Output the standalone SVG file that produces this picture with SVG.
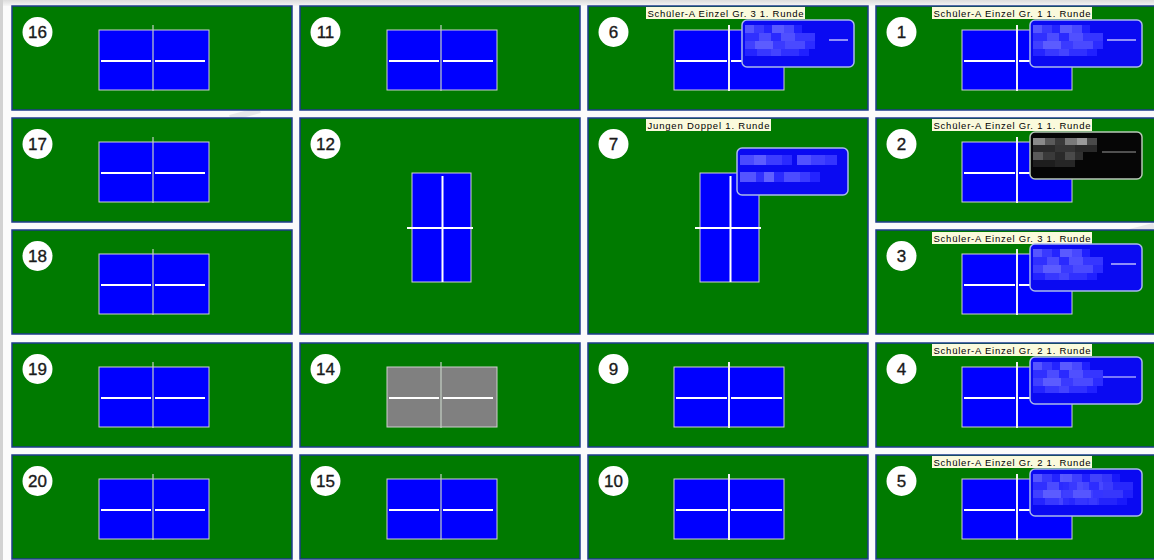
<svg xmlns="http://www.w3.org/2000/svg" width="1154" height="560" viewBox="0 0 1154 560">
<style>
.court{fill:#007a00;stroke:#1e3c8c;stroke-width:1.5}
.tbl{fill:#0000ff;stroke:#cfcfcf;stroke-width:1}
.off{fill:#808080}
.ln{stroke:#ffffff;stroke-width:2;fill:none}
.net1{stroke:#c4d0c4;stroke-width:1.2;fill:none}
.net2{stroke:#f2f2f2;stroke-width:2;fill:none}
.badge{fill:#ffffff}
.num{font-family:"Liberation Sans",Arial,sans-serif;font-size:17px;fill:#1a1a1a;stroke:#1a1a1a;stroke-width:0.35;text-anchor:middle}
.lbl{fill:#fafadc}
.lt{font-family:"Liberation Sans",Arial,sans-serif;font-size:9.5px;fill:#000}
.ov{fill:#0a0af2;stroke:#a9b9e9;stroke-width:1.5}
.ovd{fill:#060606;stroke:#b8c8b8;stroke-width:1.5}
.sep{stroke:#e8e8ff;stroke-width:1.2}
.sepd{stroke:#9a9a9a;stroke-width:1.2}
</style>
<defs>
<linearGradient id="topg" x1="0" y1="0" x2="0" y2="1">
<stop offset="0" stop-color="#dcdcdc"/><stop offset="1" stop-color="#f6f6f6"/>
</linearGradient>
<g id="mosA">
<rect x="3" y="5" width="9" height="8" fill="#5656ff"/><rect x="12" y="5" width="10" height="8" fill="#3a3aff"/><rect x="22" y="5" width="8" height="8" fill="#2424ff"/><rect x="30" y="5" width="12" height="8" fill="#5a5aff"/><rect x="42" y="5" width="10" height="8" fill="#4848ff"/><rect x="52" y="5" width="8" height="8" fill="#2020ff"/>
<rect x="3" y="13" width="14" height="8" fill="#3030ff"/><rect x="17" y="13" width="12" height="8" fill="#4c4cff"/><rect x="29" y="13" width="10" height="8" fill="#2a2aff"/><rect x="39" y="13" width="14" height="8" fill="#5050ff"/><rect x="53" y="13" width="20" height="8" fill="#3636ff"/>
<rect x="3" y="21" width="10" height="8" fill="#4040ff"/><rect x="13" y="21" width="18" height="8" fill="#5c5cff"/><rect x="31" y="21" width="12" height="8" fill="#3a3aff"/><rect x="43" y="21" width="20" height="8" fill="#4a4aff"/><rect x="63" y="21" width="10" height="8" fill="#2c2cff"/>
<rect x="3" y="29" width="12" height="7" fill="#2424ff"/><rect x="15" y="29" width="14" height="7" fill="#3838ff"/><rect x="29" y="29" width="10" height="7" fill="#4444ff"/><rect x="39" y="29" width="18" height="7" fill="#3030ff"/><rect x="57" y="29" width="10" height="7" fill="#2020ff"/>
</g>
<g id="mosB">
<rect x="3" y="7" width="14" height="10" fill="#4a4aff"/><rect x="17" y="7" width="12" height="10" fill="#5c5cff"/><rect x="29" y="7" width="16" height="10" fill="#3c3cff"/><rect x="45" y="7" width="10" height="10" fill="#2a2aff"/><rect x="60" y="7" width="14" height="10" fill="#5252ff"/><rect x="74" y="7" width="14" height="10" fill="#4040ff"/><rect x="88" y="7" width="12" height="10" fill="#3434ff"/>
<rect x="3" y="24" width="16" height="10" fill="#5454ff"/><rect x="19" y="24" width="8" height="10" fill="#3030ff"/><rect x="27" y="24" width="10" height="10" fill="#6060ff"/><rect x="37" y="24" width="10" height="10" fill="#2a2aff"/><rect x="47" y="24" width="16" height="10" fill="#4c4cff"/><rect x="63" y="24" width="10" height="10" fill="#3a3aff"/><rect x="73" y="24" width="10" height="10" fill="#2424ff"/>
</g>
<g id="mosD">
<rect x="3" y="6" width="12" height="7" fill="#8a8a8a"/><rect x="15" y="6" width="10" height="7" fill="#5a5a5a"/><rect x="25" y="6" width="10" height="7" fill="#3a3a3a"/><rect x="35" y="6" width="12" height="7" fill="#7a7a7a"/><rect x="47" y="6" width="10" height="7" fill="#9a9a9a"/><rect x="57" y="6" width="10" height="7" fill="#4a4a4a"/>
<rect x="3" y="13" width="22" height="7" fill="#2a2a2a"/><rect x="25" y="13" width="20" height="7" fill="#353535"/><rect x="45" y="13" width="22" height="7" fill="#2a2a2a"/>
<rect x="3" y="20" width="10" height="8" fill="#5a5a5a"/><rect x="13" y="20" width="12" height="8" fill="#3a3a3a"/><rect x="25" y="20" width="10" height="8" fill="#2a2a2a"/><rect x="35" y="20" width="10" height="8" fill="#4a4a4a"/><rect x="45" y="20" width="8" height="8" fill="#303030"/>
<rect x="3" y="28" width="22" height="7" fill="#1e1e1e"/><rect x="25" y="28" width="20" height="7" fill="#262626"/>
</g>
</defs>
<rect x="0" y="0" width="1154" height="560" fill="#fbfbfb"/>
<rect x="0" y="0" width="1154" height="6" fill="url(#topg)"/>
<rect x="0" y="0" width="3" height="560" fill="#d2d2d2"/>
<path d="M230 118 L260 110 M300 228 L330 222 M1130 232 L1154 226" stroke="#e6e6ea" stroke-width="6" fill="none"/>

<!-- column 1 -->
<g id="court-16" transform="translate(12,6)">
<rect class="court" width="280" height="104"/><circle class="badge" cx="25.5" cy="26" r="15"/><text class="num" x="25.5" y="32">16</text>
<rect class="tbl" x="87" y="24" width="110" height="60"/><path class="ln" d="M89 55H139M143 55H193"/><path class="net1" d="M141 19V85"/>
</g>
<g id="court-17" transform="translate(12,118)">
<rect class="court" width="280" height="104"/><circle class="badge" cx="25.5" cy="26" r="15"/><text class="num" x="25.5" y="32">17</text>
<rect class="tbl" x="87" y="24" width="110" height="60"/><path class="ln" d="M89 55H139M143 55H193"/><path class="net1" d="M141 19V85"/>
</g>
<g id="court-18" transform="translate(12,230)">
<rect class="court" width="280" height="104"/><circle class="badge" cx="25.5" cy="26" r="15"/><text class="num" x="25.5" y="32">18</text>
<rect class="tbl" x="87" y="24" width="110" height="60"/><path class="ln" d="M89 55H139M143 55H193"/><path class="net1" d="M141 19V85"/>
</g>
<g id="court-19" transform="translate(12,343)">
<rect class="court" width="280" height="104"/><circle class="badge" cx="25.5" cy="26" r="15"/><text class="num" x="25.5" y="32">19</text>
<rect class="tbl" x="87" y="24" width="110" height="60"/><path class="ln" d="M89 55H139M143 55H193"/><path class="net1" d="M141 19V85"/>
</g>
<g id="court-20" transform="translate(12,455)">
<rect class="court" width="280" height="104"/><circle class="badge" cx="25.5" cy="26" r="15"/><text class="num" x="25.5" y="32">20</text>
<rect class="tbl" x="87" y="24" width="110" height="60"/><path class="ln" d="M89 55H139M143 55H193"/><path class="net1" d="M141 19V85"/>
</g>

<!-- column 2 -->
<g id="court-11" transform="translate(300,6)">
<rect class="court" width="280" height="104"/><circle class="badge" cx="25.5" cy="26" r="15"/><text class="num" x="25.5" y="32">11</text>
<rect class="tbl" x="87" y="24" width="110" height="60"/><path class="ln" d="M89 55H139M143 55H193"/><path class="net1" d="M141 19V85"/>
</g>
<g id="court-12" transform="translate(300,118)">
<rect class="court" width="280" height="216"/><circle class="badge" cx="25.5" cy="26" r="15"/><text class="num" x="25.5" y="32">12</text>
<rect class="tbl" x="112" y="55" width="59" height="109"/><path class="ln" d="M142.5 58V164"/><path class="ln" d="M107 110H173"/>
</g>
<g id="court-14" transform="translate(300,343)">
<rect class="court" width="280" height="104"/><circle class="badge" cx="25.5" cy="26" r="15"/><text class="num" x="25.5" y="32">14</text>
<rect class="tbl off" x="87" y="24" width="110" height="60"/><path class="ln" d="M89 55H139M143 55H193"/><path class="net1" d="M141 19V85"/>
</g>
<g id="court-15" transform="translate(300,455)">
<rect class="court" width="280" height="104"/><circle class="badge" cx="25.5" cy="26" r="15"/><text class="num" x="25.5" y="32">15</text>
<rect class="tbl" x="87" y="24" width="110" height="60"/><path class="ln" d="M89 55H139M143 55H193"/><path class="net1" d="M141 19V85"/>
</g>

<!-- column 3 -->
<g id="court-6" transform="translate(588,6)">
<rect class="court" width="280" height="104"/><circle class="badge" cx="25.5" cy="26" r="15"/><text class="num" x="25.5" y="32">6</text>
<rect class="tbl" x="86" y="24" width="110" height="60"/><path class="ln" d="M88 55H139M143 55H194"/><path class="net2" d="M141 19V85"/>
<rect class="lbl" x="58" y="1" width="159" height="12"/><text class="lt" x="59.5" y="10.5" textLength="156" lengthAdjust="spacing">Schüler-A Einzel Gr. 3 1. Runde</text>
<rect class="ov" x="154" y="14" width="112" height="47" rx="5"/><path class="sep" d="M241 34H260"/><use href="#mosA" x="154" y="14"/>
</g>
<g id="court-7" transform="translate(588,118)">
<rect class="court" width="280" height="216"/><circle class="badge" cx="25.5" cy="26" r="15"/><text class="num" x="25.5" y="32">7</text>
<rect class="tbl" x="112" y="55" width="59" height="109"/><path class="ln" d="M142.5 58V164"/><path class="ln" d="M107 110H173"/>
<rect class="lbl" x="58" y="1" width="125" height="12"/><text class="lt" x="59.5" y="10.5" textLength="122" lengthAdjust="spacing">Jungen Doppel 1. Runde</text>
<rect class="ov" x="149" y="30" width="111" height="47" rx="5"/><use href="#mosB" x="149" y="30"/>
</g>
<g id="court-9" transform="translate(588,343)">
<rect class="court" width="280" height="104"/><circle class="badge" cx="25.5" cy="26" r="15"/><text class="num" x="25.5" y="32">9</text>
<rect class="tbl" x="86" y="24" width="110" height="60"/><path class="ln" d="M88 55H139M143 55H194"/><path class="net2" d="M141 19V85"/>
</g>
<g id="court-10" transform="translate(588,455)">
<rect class="court" width="280" height="104"/><circle class="badge" cx="25.5" cy="26" r="15"/><text class="num" x="25.5" y="32">10</text>
<rect class="tbl" x="86" y="24" width="110" height="60"/><path class="ln" d="M88 55H139M143 55H194"/><path class="net2" d="M141 19V85"/>
</g>

<!-- column 4 -->
<g id="court-1" transform="translate(876,6)">
<rect class="court" width="280" height="104"/><circle class="badge" cx="25.5" cy="26" r="15"/><text class="num" x="25.5" y="32">1</text>
<rect class="tbl" x="86" y="24" width="110" height="60"/><path class="ln" d="M88 55H139M143 55H194"/><path class="net2" d="M141 19V85"/>
<rect class="lbl" x="56" y="1" width="160" height="12"/><text class="lt" x="57.5" y="10.5" textLength="157" lengthAdjust="spacing">Schüler-A Einzel Gr. 1 1. Runde</text>
<rect class="ov" x="154" y="14" width="112" height="47" rx="5"/><path class="sep" d="M231 34H260"/><use href="#mosA" x="154" y="14"/>
</g>
<g id="court-2" transform="translate(876,118)">
<rect class="court" width="280" height="104"/><circle class="badge" cx="25.5" cy="26" r="15"/><text class="num" x="25.5" y="32">2</text>
<rect class="tbl" x="86" y="24" width="110" height="60"/><path class="ln" d="M88 55H139M143 55H194"/><path class="net2" d="M141 19V85"/>
<rect class="lbl" x="56" y="1" width="160" height="12"/><text class="lt" x="57.5" y="10.5" textLength="157" lengthAdjust="spacing">Schüler-A Einzel Gr. 1 1. Runde</text>
<rect class="ovd" x="154" y="14" width="112" height="47" rx="5"/><path class="sepd" d="M226 34H260"/><use href="#mosD" x="154" y="14"/>
</g>
<g id="court-3" transform="translate(876,230)">
<rect class="court" width="280" height="104"/><circle class="badge" cx="25.5" cy="26" r="15"/><text class="num" x="25.5" y="32">3</text>
<rect class="tbl" x="86" y="24" width="110" height="60"/><path class="ln" d="M88 55H139M143 55H194"/><path class="net2" d="M141 19V85"/>
<rect class="lbl" x="56" y="2" width="160" height="12"/><text class="lt" x="57.5" y="11.5" textLength="157" lengthAdjust="spacing">Schüler-A Einzel Gr. 3 1. Runde</text>
<rect class="ov" x="154" y="14" width="112" height="47" rx="5"/><path class="sep" d="M235 34H260"/><use href="#mosA" x="154" y="14"/>
</g>
<g id="court-4" transform="translate(876,343)">
<rect class="court" width="280" height="104"/><circle class="badge" cx="25.5" cy="26" r="15"/><text class="num" x="25.5" y="32">4</text>
<rect class="tbl" x="86" y="24" width="110" height="60"/><path class="ln" d="M88 55H139M143 55H194"/><path class="net2" d="M141 19V85"/>
<rect class="lbl" x="56" y="1" width="160" height="12"/><text class="lt" x="57.5" y="10.5" textLength="157" lengthAdjust="spacing">Schüler-A Einzel Gr. 2 1. Runde</text>
<rect class="ov" x="154" y="14" width="112" height="47" rx="5"/><path class="sep" d="M217 34H260"/><use href="#mosA" x="154" y="14"/>
</g>
<g id="court-5" transform="translate(876,455)">
<rect class="court" width="280" height="104"/><circle class="badge" cx="25.5" cy="26" r="15"/><text class="num" x="25.5" y="32">5</text>
<rect class="tbl" x="86" y="24" width="110" height="60"/><path class="ln" d="M88 55H139M143 55H194"/><path class="net2" d="M141 19V85"/>
<rect class="lbl" x="56" y="1" width="160" height="12"/><text class="lt" x="57.5" y="10.5" textLength="157" lengthAdjust="spacing">Schüler-A Einzel Gr. 2 1. Runde</text>
<rect class="ov" x="154" y="14" width="112" height="47" rx="5"/><use href="#mosA" x="154" y="14"/><use href="#mosA" x="184" y="14" opacity="0.7"/>
</g>
</svg>
